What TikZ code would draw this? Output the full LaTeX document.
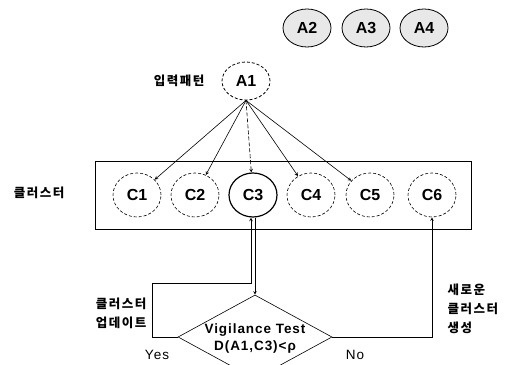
\documentclass[tikz,border=0pt]{standalone}
\usepackage{fontspec}
\setmainfont{Liberation Sans}
\newfontfamily\kr{Noto Sans CJK KR}[LetterSpace=12]
\usetikzlibrary{shapes.geometric}

\tikzset{
  >=stealth,
  every path/.style={semithick},
  pat/.style={ellipse, draw, thick, fill=gray!18, minimum width=48pt, minimum height=38pt,
    inner sep=0pt, font=\fontsize{16}{16}\selectfont\bfseries},
  clu/.style={ellipse, draw, densely dashed, minimum width=48pt, minimum height=44pt,
    inner sep=0pt, font=\fontsize{16}{16}\selectfont\bfseries},
  lbl/.style={font=\kr\fontsize{12.5}{19}\selectfont\bfseries},
  txt/.style={font=\addfontfeatures{LetterSpace=8}\fontsize{13.5}{17}\selectfont},
  vtxt/.style={font=\addfontfeatures{LetterSpace=7}\fontsize{13.5}{17}\selectfont\bfseries},
}

\begin{document}
\begin{tikzpicture}[x=1pt, y=1pt]
\useasboundingbox (0,0) rectangle (505,364);

% input patterns
\node [pat] (A2) at (307,336) {A2};
\node [pat] (A3) at (366,336) {A3};
\node [pat] (A4) at (424,336) {A4};
\node [pat, fill=none, densely dashed] (A1) at (246,283) {A1};
\node [lbl, anchor=east] (inlbl) at (208,283) {입력패턴};

% cluster box
\node [draw, minimum width=376pt, minimum height=68pt, inner sep=0pt] (box) at (283,169) {};
\node [lbl] (clulbl) at (39,171) {클러스터};

\foreach \n/\x in {1/137, 2/195, 4/311, 5/370, 6/432} {
    \node [clu] (C\n) at (\x,169) {C\n};
}
\node [clu, solid, very thick] (C3) at (253,169) {C3};

% pattern to clusters
\foreach \n in {1, 2, 4, 5} {
    \draw [->] (A1.south) -- (C\n);
}
\draw [->, dash pattern=on 4pt off 2pt] (A1.south) -- (C3);

% vigilance test
\node [diamond, draw, minimum width=154pt, minimum height=84pt, inner sep=0pt] (vt) at (255,27) {};
\node [vtxt, align=center] (vttext) at (255,25) {Vigilance Test\\D(A1,C3)<ρ};

\draw [->] ([xshift=2pt]C3.south) -- (vt.north);

% yes: update
\coordinate (upd) at (152,81);
\draw [->] (vt.west) -| (upd) -| ([xshift=-2pt]C3.south);
\node [lbl, anchor=east, align=right] (updlbl) at (150,51) {클러스터\\업데이트};
\node [txt] (yes) at (157,9) {Yes};

% no: new cluster
\draw [->] (vt.east) -| (C6.south);
\node [lbl, anchor=west, align=left] (newlbl) at (444,55) {새로운\\클러스터\\생성};
\node [txt] (no) at (355,9) {No};

\end{tikzpicture}
\end{document}
